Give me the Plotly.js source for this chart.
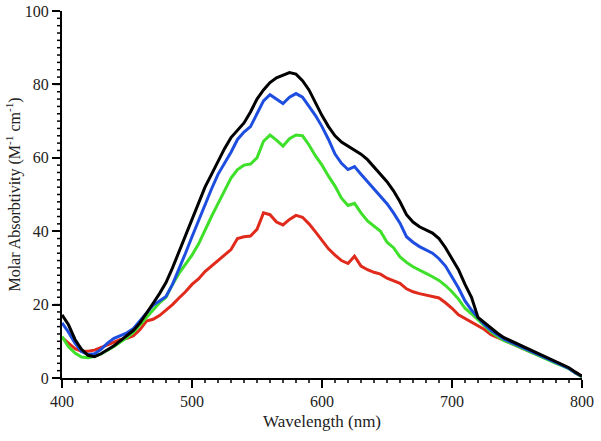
<!DOCTYPE html>
<html>
<head>
<meta charset="utf-8">
<script src="https://cdn.plot.ly/plotly-3.0.1.min.js"></script>
<style>html,body{margin:0;padding:0;background:#fff;}#chart{width:601px;height:441px;}</style>
</head>
<body>
<div id="chart"></div>
<script>
const wavelength = [400,405,410,415,420,425,430,435,440,445,450,455,460,465,470,475,480,485,490,495,500,505,510,515,520,525,530,535,540,545,550,555,560,565,570,575,580,585,590,595,600,605,610,615,620,625,630,635,640,645,650,655,660,665,670,675,680,685,690,695,700,705,710,715,720,725,730,735,740,745,750,755,760,765,770,775,780,785,790,795,800];

const redSeries = [11.0,9.5,8.0,7.3,7.3,7.6,8.2,9.0,9.8,10.5,10.8,11.5,13.2,15.5,16.0,17.0,18.5,20.0,21.8,23.5,25.5,27.0,29.0,30.5,32.0,33.5,35.0,38.0,38.5,38.7,40.5,45.0,44.5,42.5,41.7,43.2,44.3,43.8,42.0,39.8,37.5,35.2,33.5,32.0,31.2,33.2,30.5,29.5,28.8,28.3,27.2,26.5,25.8,24.3,23.5,23.0,22.6,22.4,21.8,20.5,19.0,17.2,16.2,15.2,14.2,13.2,11.8,11.0,10.2,9.6,8.8,7.9,7.2,6.5,5.8,5.0,4.2,3.5,2.6,1.4,0.4];

const greenSeries = [11.3,8.5,6.8,5.7,5.5,5.9,6.6,7.5,8.6,9.8,11.0,12.5,14.5,16.5,18.5,20.5,22.0,25.5,28.5,31.0,33.5,36.5,40.5,44.0,47.5,51.0,54.5,56.8,58.0,58.3,60.0,64.5,66.2,64.8,63.2,65.2,66.2,66.0,63.5,60.5,58.0,55.0,52.3,49.0,47.0,47.6,45.0,42.8,41.3,40.0,37.0,35.5,33.0,31.5,30.3,29.3,28.5,27.6,26.6,25.2,23.5,21.5,19.0,17.5,15.8,14.2,12.6,11.3,10.2,9.5,8.7,7.8,7.0,6.2,5.5,4.8,4.0,3.3,2.5,1.3,0.3];

const blueSeries = [15.0,12.5,9.5,7.2,6.4,6.6,7.8,9.5,10.8,11.5,12.3,13.5,15.5,17.5,19.8,21.0,22.2,25.5,29.5,34.0,38.5,43.0,47.5,51.5,55.5,58.5,61.5,65.0,67.0,68.5,72.0,75.5,77.2,76.0,74.8,76.5,77.5,76.5,74.0,71.5,68.5,65.0,61.0,58.5,56.8,57.6,55.5,53.5,51.5,49.8,47.5,45.0,42.2,38.5,37.0,35.8,34.8,34.0,32.5,30.5,27.5,24.5,21.0,18.5,16.5,14.5,13.0,11.7,10.6,9.8,9.0,8.0,7.2,6.5,5.8,5.0,4.2,3.4,2.6,1.4,0.4];

const blackSeries = [17.2,14.5,10.5,7.8,6.2,5.8,6.6,7.6,8.8,10.2,11.5,13.0,15.0,17.5,20.3,23.0,26.0,30.0,34.5,39.0,43.0,47.5,52.0,55.5,59.0,62.5,65.5,67.5,69.5,72.5,76.0,78.5,80.5,81.8,82.6,83.2,82.8,81.0,78.5,75.0,71.5,68.5,66.0,64.3,63.2,62.0,61.0,59.5,57.5,55.5,53.5,51.0,48.0,44.5,42.5,41.2,40.3,39.5,38.0,35.5,32.5,29.5,25.5,22.0,16.5,15.0,13.5,12.2,11.0,10.2,9.4,8.4,7.6,7.0,6.2,5.3,4.5,3.7,2.8,1.6,0.5];

const xTickLabels = [400,500,600,700,800];
const yTickLabels = [0,20,40,60,80,100];
const xMinorStep = 10;
const yMinorStep = 2;

const mk = (y, color) => ({
  x: wavelength, y: y, type: 'scatter', mode: 'lines',
  line: {color: color, width: 3},
  hoverinfo: 'skip', showlegend: false
});

const traces = [
  mk(redSeries, '#e02a1c'),
  mk(greenSeries, '#3ee02a'),
  mk(blueSeries, '#1e4ee0'),
  mk(blackSeries, '#000000')
];

const serif = 'Liberation Serif, Times New Roman, serif';
const clear = 'rgba(255,255,255,0)';

// Plot area size (601x441 minus margins) to express tick lengths in paper units
const plotW = 601 - 62 - 19, plotH = 441 - 11 - 63;

// Tick marks as axis-referenced shapes (backup for the axis' own ticks)
const shapes = [];
for (let v = xTickLabels[0]; v <= xTickLabels[xTickLabels.length - 1]; v += xMinorStep) {
  const major = xTickLabels.indexOf(v) >= 0;
  shapes.push({type: 'line', xref: 'x', yref: 'paper', x0: v, x1: v, y0: 0, y1: -(major ? 8 : 5) / plotH,
    line: {color: 'black', width: 1.5}, layer: 'above'});
}
for (let v = yTickLabels[0]; v <= yTickLabels[yTickLabels.length - 1]; v += yMinorStep) {
  const major = yTickLabels.indexOf(v) >= 0;
  shapes.push({type: 'line', xref: 'paper', yref: 'y', x0: 0, x1: -(major ? 8 : 5) / plotW, y0: v, y1: v,
    line: {color: 'black', width: 1.5}, layer: 'above'});
}

const layout = {
  width: 601, height: 441,
  margin: {l: 62, r: 19, t: 11, b: 63},
  showlegend: false,
  shapes: shapes,
  xaxis: {
    range: [400, 800], tickvals: xTickLabels, ticktext: xTickLabels.map(String),
    gridcolor: clear, zerolinecolor: clear,
    showline: true, linecolor: 'black', linewidth: 2,
    ticks: 'outside', ticklen: 8, tickwidth: 1.5, tickcolor: 'black',
    tickfont: {family: serif, size: 16, color: '#222'},
    title: {text: 'Wavelength (nm)', font: {family: serif, size: 17, color: '#222'}, standoff: 6}
  },
  yaxis: {
    range: [0, 100], tickvals: yTickLabels, ticktext: yTickLabels.map(String),
    gridcolor: clear, zerolinecolor: clear,
    showline: true, linecolor: 'black', linewidth: 2,
    ticks: 'outside', ticklen: 8, tickwidth: 1.5, tickcolor: 'black',
    tickfont: {family: serif, size: 16, color: '#222'},
    title: {text: 'Molar Absorbtivity (M<sup>-1</sup> cm<sup>-1</sup>)', font: {family: serif, size: 16, color: '#222'}, standoff: 0}
  }
};

Plotly.newPlot('chart', traces, layout, {displayModeBar: false});
</script>
</body>
</html>
